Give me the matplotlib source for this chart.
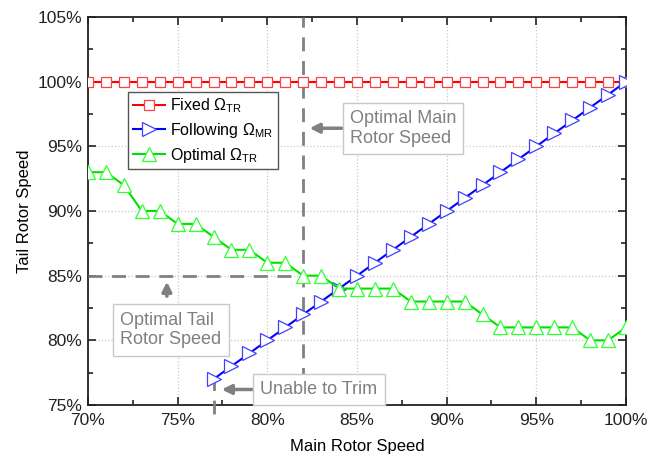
import matplotlib
matplotlib.use("Agg")
import matplotlib.pyplot as plt
from matplotlib.ticker import MultipleLocator, FuncFormatter

plt.rcParams['font.family'] = ['Liberation Sans', 'DejaVu Sans']
plt.rcParams['mathtext.fontset'] = 'custom'
plt.rcParams['mathtext.rm'] = 'Liberation Sans'
plt.rcParams['mathtext.it'] = 'Liberation Sans'

# main rotor speed, %
mr_speed = list(range(70, 101))
fixed_tr = [100] * len(mr_speed)
follow_x = list(range(77, 101))
follow_tr = list(range(77, 101))
optimal_tr = [93, 93, 92, 90, 90, 89, 89, 88, 87, 87, 86, 86, 85, 85, 84, 84,
              84, 84, 83, 83, 83, 83, 82, 81, 81, 81, 81, 81, 80, 80, 81]

opt_mr = 82
opt_tr = 85
trim_limit = 77

fig = plt.figure(figsize=(6.49, 4.59), dpi=100)
ax = fig.add_axes([88 / 649, 1 - 405 / 459, 538 / 649, 388 / 459])

ax.plot(mr_speed, fixed_tr, color='red', lw=1.5, marker='s', ms=7.5,
        mfc='white', mec='#ff4040', mew=0.9, label=r'Fixed $\Omega_{\mathrm{TR}}$', zorder=4)
ax.plot(follow_x, follow_tr, color='blue', lw=1.5, marker='>', ms=9.5,
        mfc='white', mec='#4040ff', mew=0.9, label=r'Following $\Omega_{\mathrm{MR}}$', zorder=4)
ax.plot(mr_speed, optimal_tr, color='#00e000', lw=1.5, marker='^', ms=10.5,
        mfc='white', mec='#30ff30', mew=0.9, label=r'Optimal $\Omega_{\mathrm{TR}}$', zorder=4)

# dashed guide lines
dash = dict(color='#808080', lw=2, ls=(0, (5, 3.5)), zorder=3)
ax.plot([opt_mr, opt_mr], [75, 105], **dash)
ax.plot([70, opt_mr], [opt_tr, opt_tr], **dash)
ax.plot([trim_limit, trim_limit], [74.3, 77], clip_on=False, **dash)

ax.set_xlim(70, 100)
ax.set_ylim(75, 105)
ax.xaxis.set_major_locator(MultipleLocator(5))
ax.xaxis.set_minor_locator(MultipleLocator(2.5))
ax.yaxis.set_major_locator(MultipleLocator(5))
ax.yaxis.set_minor_locator(MultipleLocator(2.5))
pct = FuncFormatter(lambda v, p: f'{v:.0f}%')
ax.xaxis.set_major_formatter(pct)
ax.yaxis.set_major_formatter(pct)
ax.tick_params(which='both', direction='in', top=True, right=True, labelsize=12.5, colors='#222222')
ax.tick_params(which='major', length=6, width=1.2)
ax.tick_params(which='minor', length=3.5, width=1.2)
ax.tick_params(axis='x', pad=6)
ax.tick_params(axis='y', pad=4)
ax.grid(True, which='major', color='#c8c8c8', ls=':', lw=0.9)
for s in ax.spines.values():
    s.set_linewidth(1.3)
    s.set_color('#222222')

ax.set_xlabel('Main Rotor Speed', fontsize=12, labelpad=8)
ax.set_ylabel('Tail Rotor Speed', fontsize=12, labelpad=4)

leg = ax.legend(loc='upper left', bbox_to_anchor=(0.074, 0.807), borderaxespad=0,
                fontsize=11.5, fancybox=False, edgecolor='#555555', framealpha=1,
                handlelength=2.0, borderpad=0.3, labelspacing=0.35, handletextpad=0.35)
leg.get_frame().set_linewidth(1.0)

box = dict(boxstyle='square,pad=0.4', fc='white', ec='#c8c8c8', lw=1)
arrow = dict(arrowstyle='-|>', color='#808080', lw=2.5, mutation_scale=14)
txt = dict(fontsize=13, color='#808080', linespacing=1.2)

ax.annotate('', xy=(opt_mr + 0.2, 96.4), xytext=(84.3, 96.4), arrowprops=arrow)
ax.text(84.6, 96.4, 'Optimal Main\nRotor Speed', va='center', ha='left', bbox=box, **txt)

ax.annotate('', xy=(74.4, opt_tr - 0.25), xytext=(74.4, 83.2), arrowprops=arrow)
ax.text(71.8, 80.8, 'Optimal Tail\nRotor Speed', va='center', ha='left', bbox=box, **txt)

ax.annotate('', xy=(trim_limit + 0.3, 76.2), xytext=(79.3, 76.2), arrowprops=arrow)
ax.text(79.6, 76.2, 'Unable to Trim', va='center', ha='left', bbox=box, **txt)

fig.savefig('out.png', dpi=100)
